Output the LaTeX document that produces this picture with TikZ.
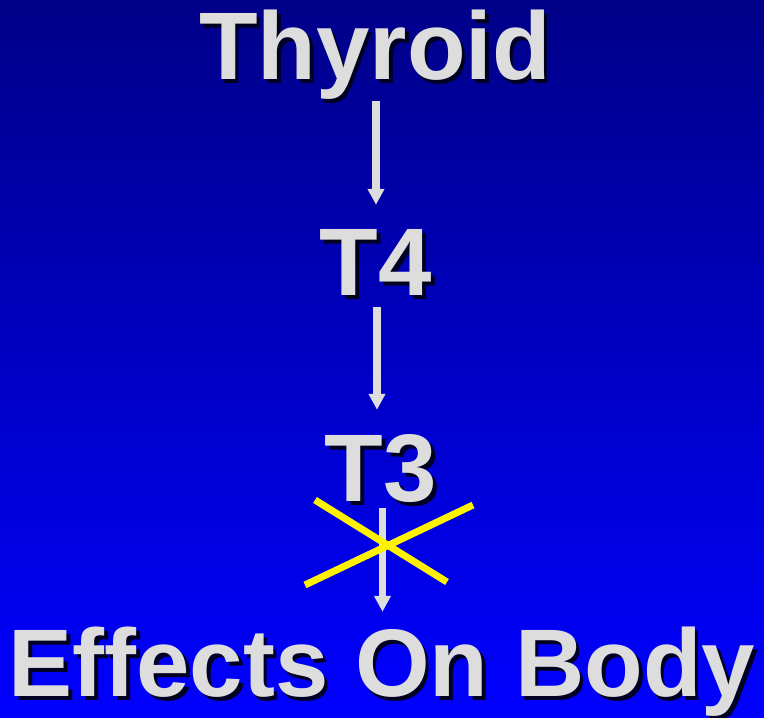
\documentclass[tikz,border=0pt]{standalone}
\usepackage{fontspec}
\setmainfont{Liberation Sans}
\usetikzlibrary{calc,arrows.meta}
\definecolor{bgtop}{HTML}{000088}
\definecolor{bgmid}{HTML}{0000D8}
\definecolor{bgbot}{HTML}{0000FF}
\definecolor{txtgray}{HTML}{DDDDDD}
\definecolor{txtshadow}{HTML}{000022}
\newcommand{\shadowed}[1]{\rlap{\kern3.5pt\raisebox{-3.5pt}{\color{txtshadow}#1}}#1}

\begin{document}
\begin{tikzpicture}[x=1pt,y=1pt,
    lbl/.style={inner sep=0pt,text height=70pt,text depth=4pt,text=txtgray,
      font=\bfseries\fontsize{96}{100}\selectfont},
    flow/.style={draw=txtgray,line width=7.5pt,-{Triangle[width=16pt,length=16pt]}},
    cross/.style={draw=yellow,line width=7pt}]
  \shade[top color=bgtop,middle color=bgmid,bottom color=bgbot] (0,0) rectangle (764,718);
  \useasboundingbox (0,0) rectangle (764,718);
  % labels
  \node[lbl,anchor=base] (thyroid) at (375,638) {\shadowed{Thyroid}};
  \node[lbl,anchor=base] (tfour) at (376,422) {\shadowed{T4}};
  \node[lbl,anchor=base] (tthree) at (381,216) {\shadowed{T3}};
  \node[lbl,anchor=base] (effects) at (382,21) {\shadowed{Effects On Body}};
  % arrows
  \draw[flow,shorten <=17pt,shorten >=21pt] ([xshift=1pt]thyroid.south) -- ([xshift=1pt]thyroid.south |- tfour.north);
  \draw[flow,shorten <=7pt,shorten >=22pt] ([xshift=1pt]tfour.south) -- ([xshift=1pt]tfour.south |- tthree.north);
  \draw[flow,shorten <=2pt,shorten >=15pt] ([xshift=1.5pt]tthree.south) -- ([xshift=1.5pt]tthree.south |- effects.north);
  % crossed out
  \draw[cross] (315,218) -- (447,136);
  \draw[cross] (305,133) -- (473,213);
\end{tikzpicture}
\end{document}
